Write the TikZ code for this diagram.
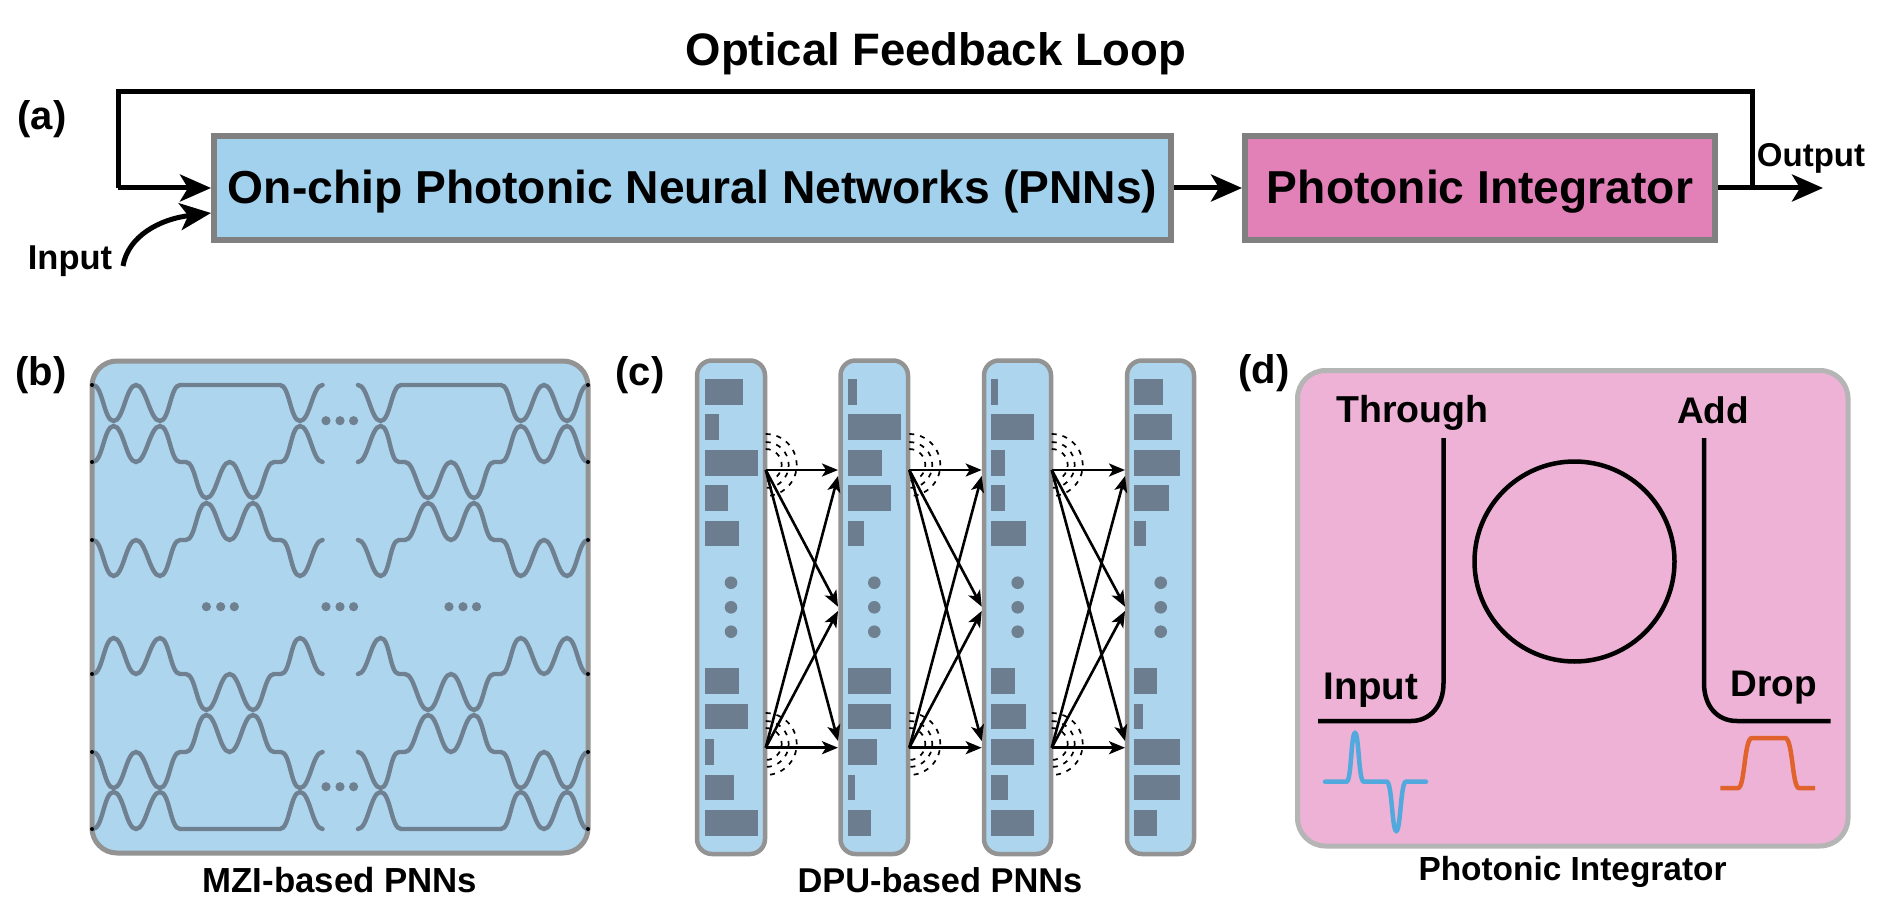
\documentclass[tikz,border=0pt]{standalone}
\usepackage{fontspec}
\setmainfont{Liberation Sans}[BoldFont={Liberation Sans Bold}]
\usetikzlibrary{arrows.meta}
\definecolor{pnnfill}{HTML}{A2D1EE}
\definecolor{intfill}{HTML}{E280B8}
\definecolor{softblue}{HTML}{AED5EE}
\definecolor{softpink}{HTML}{EDB2D5}
\definecolor{graphite}{HTML}{6F8090}
\definecolor{barcol}{HTML}{6C7D8F}
\definecolor{edgegray}{HTML}{939393}
\definecolor{edgedark}{HTML}{808080}
\definecolor{edgelight}{HTML}{B5B5B5}
\definecolor{pulseblue}{HTML}{52A9DE}
\definecolor{pulseorange}{HTML}{E0632E}
\newcommand{\txt}[1]{\fontsize{#1}{#1}\selectfont\bfseries}
\def\cc{to[out=0,in=180,looseness=.6]}
\tikzset{
  lbl/.style={inner sep=0pt,outer sep=0pt,text=black,font=\txt{#1}},
  mainbox/.style={draw=edgedark,line width=6pt,minimum height=104pt,inner sep=0pt,font=\txt{46.2}},
  flow/.style={draw=black,line width=5pt,line join=miter},
  flowtip/.style={flow,-{Stealth[length=31pt,width=27pt,inset=8pt]}},
  wg/.style={draw=graphite,line width=4.4pt,line cap=round},
  thin arrow/.style={draw=black,line width=2.6pt,-{Stealth[length=16pt,width=13pt,inset=4pt]}},
  arcdash/.style={draw=black,line width=1.7pt,dash pattern=on 5pt off 6pt},
  ring/.style={draw=black,line width=4.5pt},
  column/.style={draw=edgegray,fill=softblue,line width=4.5pt,rounded corners=15pt},
}
\begin{document}
\begin{tikzpicture}[x=1pt,y=-1pt]
\useasboundingbox (0,0) rectangle (1884,904);
\fill[white] (0,0) rectangle (1884,904);

% ---------- panel (a)
\node[lbl=40] (la) at (42,119) {(a)};
\node[lbl=45.5] (title) at (936,54) {Optical Feedback Loop};
\node[mainbox,fill=pnnfill,minimum width=957pt] (pnn) at (692.5,188) {\raisebox{-15.3pt}[0pt][0pt]{On-chip Photonic Neural Networks (PNNs)}};
\node[mainbox,fill=intfill,minimum width=470pt] (integ) at (1480,188) {\raisebox{-15.3pt}[0pt][0pt]{Photonic Integrator}};
\node[lbl=34.5] (inlab) at (70,261) {Input};
\node[lbl=33] (outlab) at (1811,158) {Output};
\coordinate (fbA) at (1752,188);
\coordinate (fbB) at (1752,92);
\coordinate (fbC) at (118,92);
\coordinate (fbD) at (118,188);
\coordinate (outA) at (1755,188);
\coordinate (outB) at (1823,188);
\coordinate (inA) at (123,266);
\coordinate (inB) at (211,213);
\draw[flow] (integ.east) -- (fbA) -- (fbB) -- (fbC) -- (fbD);
\draw[flowtip] (fbD) -- (pnn.west);
\draw[flowtip] (pnn.east) -- (integ.west);
\draw[flowtip] (outA) -- (outB);
\draw[flowtip] (inA) .. controls (128,236) and (160,219) .. (inB);

% ---------- panel (b)
\node[lbl=40] (lb) at (41,375) {(b)};
\draw[draw=edgegray,fill=softblue,line width=5pt,rounded corners=25pt] (92,361) rectangle (588,853);
% upper block
\draw[wg] (93,385) \cc(113.6,421) \cc(136,385) \cc(160,421) \cc(180,385) -- (280,385) \cc(300,421) \cc(322.5,385);
\draw[wg] (358,385) \cc(380.7,421) \cc(401,385) -- (501,385) \cc(520.7,421) \cc(544,385) \cc(567,421) \cc(588,385);
\foreach \dy in {0,212}{
  \begin{scope}[yshift=-\dy pt]
  \draw[wg] (93,462) \cc(113.6,426) \cc(136,462) \cc(160,426) \cc(180,462) -- (186,462) \cc(206.4,498) \cc(229.6,462) \cc(253,498) \cc(274,462) -- (281,462) \cc(300,426) \cc(322.5,462);
  \draw[wg] (358,462) \cc(380.7,426) \cc(399,462) -- (405,462) \cc(428,498) \cc(451,462) \cc(474,498) \cc(494,462) -- (501,462) \cc(520.7,426) \cc(544,462) \cc(567,426) \cc(588,462);
  \draw[wg] (93,540) \cc(113.6,576) \cc(136,540) \cc(160,576) \cc(180,540) -- (186,540) \cc(206.4,503) \cc(229.6,540) \cc(253,503) \cc(274,540) -- (281,540) \cc(300,576) \cc(322.5,540);
  \draw[wg] (358,540) \cc(380.7,576) \cc(399,540) -- (405,540) \cc(428,503) \cc(451,540) \cc(474,503) \cc(494,540) -- (501,540) \cc(520.7,576) \cc(544,540) \cc(567,576) \cc(588,540);
  \end{scope}
}
\draw[wg] (93,829) \cc(113.6,792) \cc(136,829) \cc(160,792) \cc(180,829) -- (280,829) \cc(300,792) \cc(322.5,829);
\draw[wg] (358,829) \cc(380.7,792) \cc(401,829) -- (501,829) \cc(520.7,792) \cc(544,829) \cc(567,792) \cc(588,829);
\foreach \yy in {385,462,540,674,752,829}{
  \fill[black] (92,\yy) circle (2pt);
  \fill[black] (588,\yy) circle (2pt);
}
\foreach \xx/\yy in {326/420.7,340/420.7,353.6/420.7,206.4/606.7,220.7/606.7,234.3/606.7,326/606.7,340/606.7,353.6/606.7,449/606.7,463/606.7,476.5/606.7,326/786.7,340/786.7,353.6/786.7}{
  \fill[graphite] (\xx,\yy) circle (4.6pt);
}
\node[lbl=34.8] (mzi) at (340,880) {MZI-based PNNs};

% ---------- panel (c)
\node[lbl=40] (lc) at (640,375) {(c)};
\draw[column] (697,360.5) rectangle (765,854);
\draw[column] (840.5,360.5) rectangle (908,854);
\draw[column] (984,360.5) rectangle (1051,854);
\draw[column] (1127,360.5) rectangle (1194,854);
\foreach \xx/\wa/\wb/\wc/\wd/\we/\wf/\wg/\wh/\wi/\wj in {
  704.7/38.7/14.3/53/23/34.3/34.3/43/9.7/29/53,
  847.7/9.7/53.3/34.3/43.7/16.7/43.7/43.7/29.3/7.3/23.3,
  991/7.3/43.3/14/14/34.7/23.7/34.7/43.3/17.3/43.3,
  1134/29/37.7/46/34.7/12.3/23.3/8.7/46/46/23.3}{
  \fill[barcol] (\xx,378.7) rectangle ++(\wa,25.8);
  \fill[barcol] (\xx,414.3) rectangle ++(\wb,25.8);
  \fill[barcol] (\xx,449.8) rectangle ++(\wc,25.8);
  \fill[barcol] (\xx,485.2) rectangle ++(\wd,25.8);
  \fill[barcol] (\xx,520.6) rectangle ++(\we,25.8);
  \fill[barcol] (\xx,668) rectangle ++(\wf,25.8);
  \fill[barcol] (\xx,703.6) rectangle ++(\wg,25.8);
  \fill[barcol] (\xx,739) rectangle ++(\wh,25.8);
  \fill[barcol] (\xx,774.6) rectangle ++(\wi,25.8);
  \fill[barcol] (\xx,810) rectangle ++(\wj,25.8);
}
\foreach \xx in {731,874.3,1017.7,1160.7}{
  \foreach \yy in {582.7,607.3,631.7}{\fill[graphite] (\xx,\yy) circle (6.3pt);}
}
\foreach \n/\sx/\tx in {1/765.7/838, 2/909.3/981.7, 3/1051.7/1125}{
  \coordinate (s\n a) at (\sx,470);
  \coordinate (s\n b) at (\sx,747.7);
  \coordinate (t\n a) at (\tx,470);
  \coordinate (t\n b) at (\tx,606.7);
  \coordinate (t\n c) at (\tx,611);
  \coordinate (t\n d) at (\tx,747.7);
  \coordinate (t\n e) at (\tx,476);
  \coordinate (t\n f) at (\tx,741);
  \draw[thin arrow] (s\n a) -- (t\n a);
  \draw[thin arrow] (s\n a) -- (t\n b);
  \draw[thin arrow] (s\n a) -- (t\n f);
  \draw[thin arrow] (s\n b) -- (t\n e);
  \draw[thin arrow] (s\n b) -- (t\n c);
  \draw[thin arrow] (s\n b) -- (t\n d);
  \foreach \rr in {16,23,31}{
    \draw[arcdash] (\sx,465-\rr) arc[start angle=90,end angle=-90,radius=\rr pt];
    \draw[arcdash] (\sx,744-\rr) arc[start angle=90,end angle=-90,radius=\rr pt];
  }
}
\node[lbl=34.4] (dpu) at (940,880) {DPU-based PNNs};

% ---------- panel (d)
\node[lbl=40] (ld) at (1264,373) {(d)};
\draw[draw=edgelight,fill=softpink,line width=5pt,rounded corners=28pt] (1297.5,370.5) rectangle (1848,846);
\draw[ring] (1574.5,561.5) circle (100pt);
\draw[ring] (1443.5,438) -- (1443.5,683) .. controls (1443.5,706) and (1430,721) .. (1411,721) -- (1318,721);
\draw[ring] (1704,438) -- (1704,683) .. controls (1704,706) and (1717,721) .. (1737,721) -- (1830.5,721);
\node[lbl=37.5] (thr) at (1412.5,413) {Through};
\node[lbl=37] (add) at (1713,410) {Add};
\node[lbl=38.5] (inp) at (1371,690) {Input};
\node[lbl=37] (drp) at (1774,688) {Drop};
\draw[draw=pulseblue,line width=4.5pt,line cap=round] (1325,781.7) -- (1346.5,781.7) .. controls (1351.5,781.7) and (1351,733) .. (1355,733) .. controls (1359,733) and (1358.5,781.7) .. (1363.8,781.7) -- (1386.7,781.7) .. controls (1392,781.7) and (1392,831) .. (1396.3,831) .. controls (1400.6,831) and (1400.6,781.7) .. (1405.9,781.7) -- (1426,781.7);
\draw[draw=pulseorange,line width=4.5pt] (1720.4,788) -- (1738,788) .. controls (1745,788) and (1744,738) .. (1752,738) -- (1785,738) .. controls (1793,738) and (1792,788) .. (1799,788) -- (1815,788);
\node[lbl=33.4] (pi) at (1572.5,872) {Photonic Integrator};
\end{tikzpicture}
\end{document}
